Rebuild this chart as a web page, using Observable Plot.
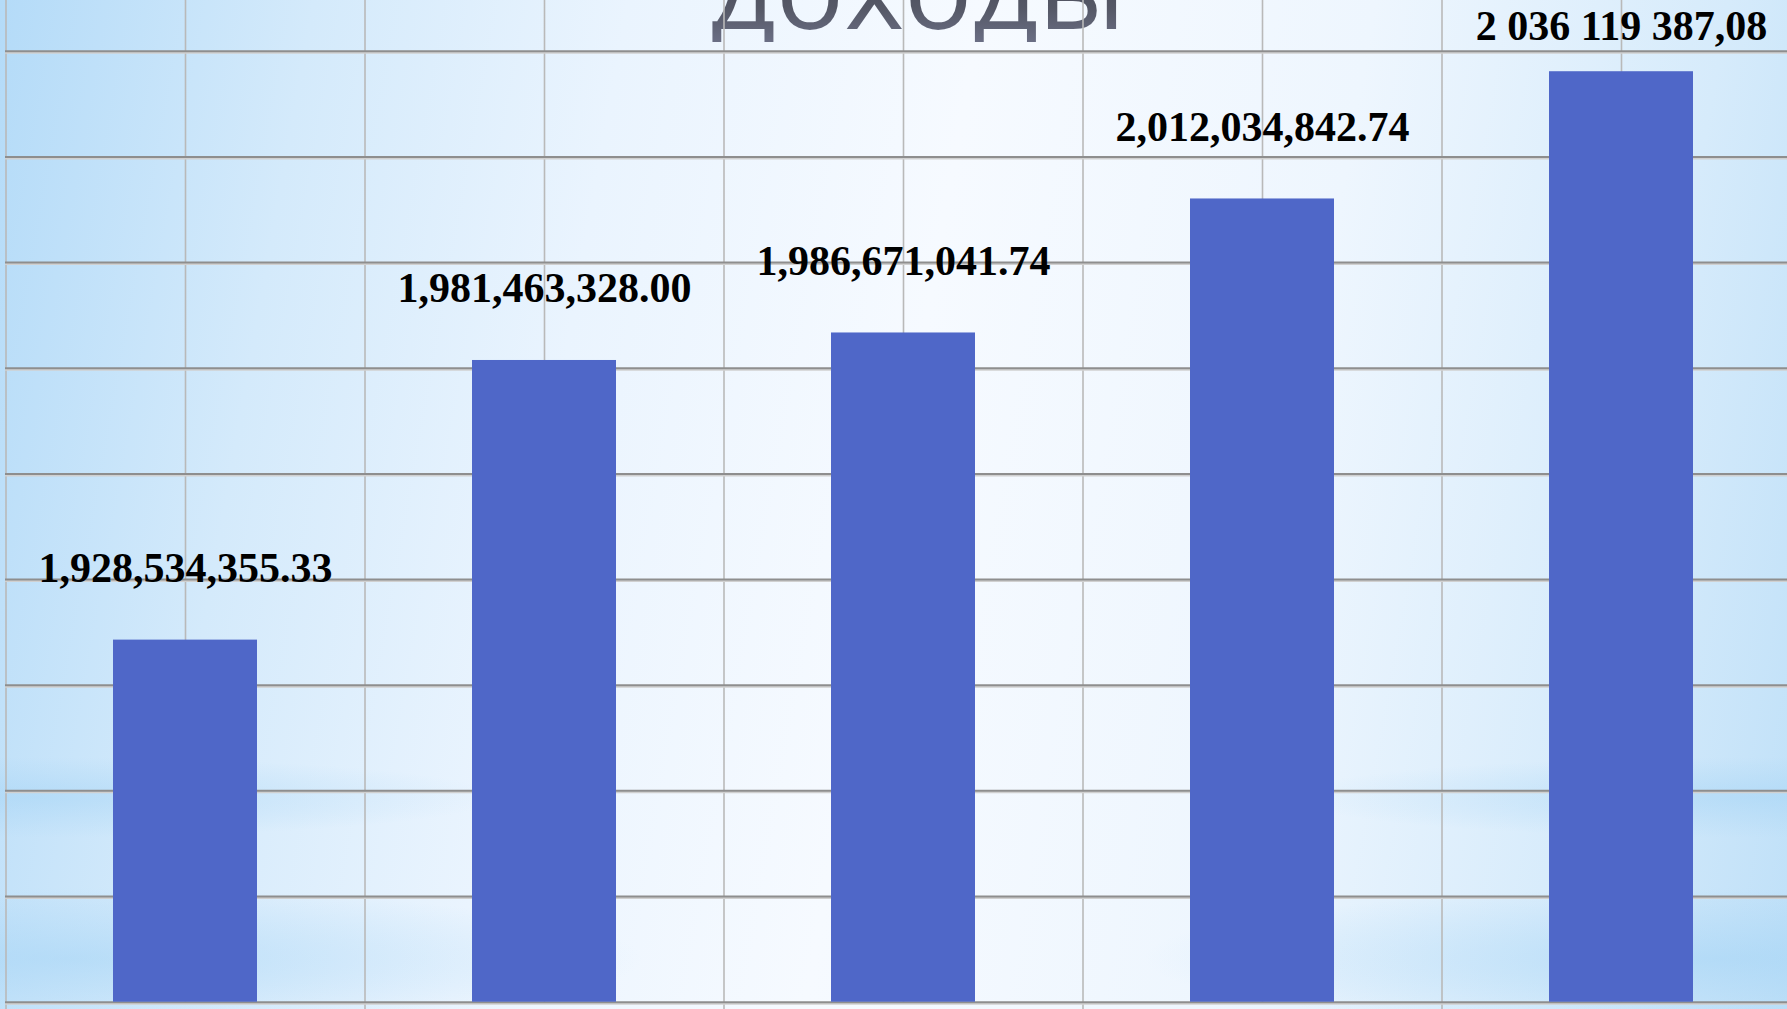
<!DOCTYPE html>
<html>
<head>
<meta charset="utf-8">
<script src="https://cdn.jsdelivr.net/npm/d3@7"></script>
<script src="https://cdn.jsdelivr.net/npm/@observablehq/plot@0.6"></script>
<style>
  html, body { margin: 0; padding: 0; width: 1787px; height: 1009px; overflow: hidden; }
  body {
    position: relative;
    background:
      radial-gradient(ellipse 26% 4% at 2% 79%, rgba(160, 210, 245, 0.45), rgba(160, 210, 245, 0) 100%),
      radial-gradient(ellipse 26% 4% at 98% 79%, rgba(160, 210, 245, 0.45), rgba(160, 210, 245, 0) 100%),
      radial-gradient(ellipse 32% 7% at 4% 95%, rgba(160, 210, 245, 0.5), rgba(160, 210, 245, 0) 100%),
      radial-gradient(ellipse 32% 7% at 96% 95%, rgba(160, 210, 245, 0.5), rgba(160, 210, 245, 0) 100%),
      linear-gradient(100deg, #b4dbf8 0%, #d4eafb 16%, #eaf4fe 32%, #f6faff 50%, #eef6fe 70%, #d6ebfb 88%, #bfe0f8 100%);
  }
  #title {
    position: absolute;
    left: 0; width: 1836px; text-align: center;
    top: -72px;
    font-family: "Open Sans", sans-serif;
    font-weight: 500;
    font-size: 114px; line-height: 1;
    background: linear-gradient(180deg, #3e414e 0%, #555866 70%, #6a6e84 100%);
    -webkit-background-clip: text; background-clip: text; color: transparent;
    white-space: nowrap;
  }
  #chart { position: absolute; left: 0; top: 0; }
</style>
</head>
<body>
<div id="title">доходы</div>
<div id="chart"></div>
<script>
// ---- data ----
const categories = ["1", "2", "3", "4", "5"];
const values = [1928534355.33, 1981463328.00, 1986671041.74, 2012034842.74, 2036119387.08];
const valueLabels = ["1,928,534,355.33", "1,981,463,328.00", "1,986,671,041.74", "2,012,034,842.74", "2 036 119 387,08"];
const yTicks = [1860e6, 1880e6, 1900e6, 1920e6, 1940e6, 1960e6, 1980e6, 2000e6, 2020e6, 2040e6];
const yDomain = [1860e6, 2049.6e6];

// ---- layout ----
const W = 1787, H = 1009;
const xRange = [5, 1800];
const yRange = [1001.7, 0];
const step = (xRange[1] - xRange[0]) / categories.length;
const pxPerUnit = (yRange[0] - yRange[1]) / (yDomain[1] - yDomain[0]);
const labelLift = 58;   // px between bar top and label baseline
const labelTop = 39;    // keep label baselines at least this far below the top edge
const labelY = v => Math.min(v + labelLift / pxPerUnit, yDomain[1] - labelTop / pxPerUnit);

const rows = categories.map((c, i) => ({ cat: c, value: values[i], label: valueLabels[i] }));

const chart = Plot.plot({
  width: W,
  height: H,
  marginTop: 0, marginBottom: 0, marginLeft: 5, marginRight: 0,
  style: { background: "transparent", overflow: "visible" },
  x: { domain: categories, range: xRange, paddingInner: 0.6, paddingOuter: 0.3, align: 0.5, axis: null },
  y: { domain: yDomain, range: yRange, axis: null },
  marks: [
    // vertical grid: band boundaries (full height, extend as ticks below axis)
    Plot.ruleX(categories, { x: d => d, dx: -step / 2, stroke: "#b9b9b9", strokeWidth: 1.6 }),
    // vertical grid: band centres (down to the axis)
    Plot.ruleX(categories, { x: d => d, y1: yDomain[0], y2: yDomain[1], stroke: "#b9b9b9", strokeWidth: 1.6 }),
    // horizontal grid
    Plot.ruleY(yTicks, { stroke: "#d0d0d0", strokeWidth: 2, dy: 1.5 }),
    Plot.ruleY(yTicks, { stroke: "#8e8e8e", strokeWidth: 2 }),
    // bars
    Plot.barY(rows, { x: "cat", y1: yDomain[0], y2: "value", fill: "#4f67c8" }),
    // labels
    Plot.text(rows, {
      x: "cat", y: d => labelY(d.value), text: "label",
      lineAnchor: "bottom",
      fontFamily: "Liberation Serif, 'Times New Roman', serif",
      fontWeight: "bold", fontSize: 42, fill: "#000"
    })
  ]
});
document.getElementById("chart").appendChild(chart);
</script>
</body>
</html>
